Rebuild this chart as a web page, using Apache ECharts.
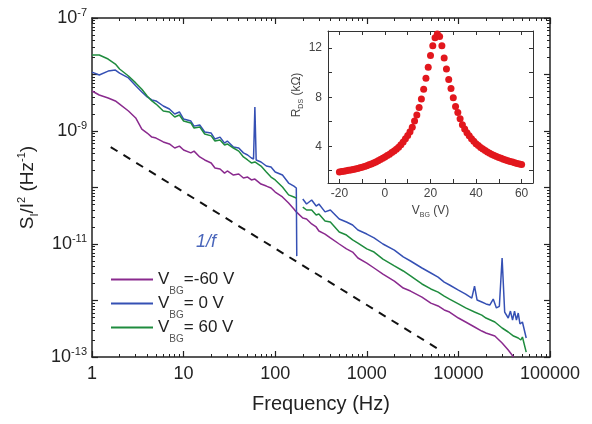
<!DOCTYPE html>
<html>
<head>
<meta charset="utf-8">
<script src="https://cdn.jsdelivr.net/npm/echarts@6/dist/echarts.min.js"></script>
<style>html,body{margin:0;padding:0;background:#fff}#main{width:592px;height:424px}</style>
</head>
<body>
<div id="main"></div>
<script>
// noise spectra S_I/I^2 vs frequency
const freqPurple = [1,1.2,1.5,1.8,2,2.5,3,3.5,4,4.5,5,6,7,8,9,10,12,13,15,17,20,22,25,28,30,35,40,45,50,55,60,70,80,90,100,120,140,160,170,200,220,250,280,300,350,400,500,600,700,800,1000,1200,1500,2000,2500,3000,4000,5000,6000,7000,8000,10000,12000,15000,18000,20000,25000,30000,35000,40000];
const sPurple = [5.1e-9,4.34e-9,3.84e-9,3.4e-9,3.0e-9,2.26e-9,1.7e-9,1.08e-9,9.2e-10,7.8e-10,7.5e-10,6.4e-10,5.9e-10,5.0e-10,5.4e-10,4.6e-10,4.1e-10,4.4e-10,3.47e-10,3.07e-10,2.72e-10,2.21e-10,2.12e-10,1.8e-10,1.96e-10,1.66e-10,1.73e-10,1.47e-10,1.53e-10,1.36e-10,1.41e-10,1.15e-10,1.06e-10,9.8e-11,8.3e-11,6.8e-11,5.3e-11,4.16e-11,3.7e-11,2.88e-11,2.77e-11,2.26e-11,2.0e-11,1.7e-11,1.5e-11,1.28e-11,1.0e-11,8.2e-12,7.2e-12,5.65e-12,4.6e-12,3.76e-12,2.94e-12,2.21e-12,1.66e-12,1.47e-12,1.15e-12,9.0e-13,8.0e-13,6.8e-13,6.25e-13,4.9e-13,4.16e-13,3.4e-13,2.88e-13,2.66e-13,2.35e-13,1.77e-13,1.33e-13,1.0e-13];

const freqBlue = [1,1.2,1.5,1.8,2,2.5,3,3.5,4,4.5,5,6,7,8,9,10,12,13,15,17,20,22,25,28,30,35,40,45,50,55,58,60,62,70,80,90,100,120,140,160,170,172,185,200,220,250,280,300,350,400,500,600,700,800,1000,1200,1500,2000,2500,3000,4000,5000,6000,7000,8000,10000,12000,14000,15000,16000,18000,20000,22000,24000,26000,28000,30000,32000,35000,37000,39000,41000,43000,45000,47000,50000,55000];
const sBlue = [1.1e-8,9.8e-9,1.15e-8,1.2e-8,1.06e-8,8.7e-9,6.3e-9,4.9e-9,4.0e-9,3.54e-9,3.4e-9,2.77e-9,2.45e-9,2.0e-9,2.17e-9,1.63e-9,1.5e-9,1.22e-9,1.28e-9,9.6e-10,9.2e-10,7.2e-10,7.8e-10,6.1e-10,6.65e-10,5.2e-10,5.0e-10,4.1e-10,3.76e-10,3.33e-10,3.2e-10,2.66e-9,3.07e-10,2.83e-10,2.4e-10,2.3e-10,1.88e-10,1.66e-10,1.2e-10,1.06e-10,9.8e-11,6.1e-12,null,6.25e-11,5.1e-11,6.0e-11,4.7e-11,5.1e-11,3.7e-11,4.0e-11,2.77e-11,2.45e-11,2.17e-11,1.77e-11,1.5e-11,1.28e-11,1.0e-11,7.8e-12,5.9e-12,5.0e-12,3.76e-12,3.07e-12,2.6e-12,2.12e-12,1.88e-12,1.53e-12,1.3e-12,1.1e-12,1.8e-12,1.02e-12,9.4e-13,8.7e-13,8.3e-13,1.06e-12,7.4e-13,7.9e-13,5.65e-12,6.25e-13,4.9e-13,6.5e-13,4.5e-13,6.5e-13,4.5e-13,6.0e-13,3.84e-13,4.16e-13,2.17e-13];

const freqGreen = [1,1.2,1.5,1.8,2,2.5,3,3.5,4,4.5,5,6,7,8,9,10,12,13,15,17,20,22,25,28,30,35,40,45,50,55,60,70,80,90,100,120,140,160,170,185,200,220,250,280,300,350,400,500,600,700,800,1000,1200,1500,2000,2500,3000,4000,5000,6000,7000,8000,10000,12000,15000,18000,20000,25000,30000,35000,40000,45000,48000,50000,55000];
const sGreen = [2.21e-8,2.21e-8,1.88e-8,1.53e-8,1.25e-8,9.4e-9,7.1e-9,5.5e-9,4.16e-9,3.4e-9,3.0e-9,2.26e-9,2.17e-9,1.77e-9,1.92e-9,1.5e-9,1.39e-9,1.13e-9,1.18e-9,8.85e-10,8.2e-10,6.65e-10,6.9e-10,5.65e-10,5.9e-10,5.0e-10,4.4e-10,3.47e-10,3.07e-10,2.72e-10,2.83e-10,2.4e-10,1.88e-10,1.53e-10,1.36e-10,1.02e-10,7.4e-11,6.8e-11,6.5e-11,null,4.5e-11,4.0e-11,4.0e-11,3.26e-11,3.4e-11,2.55e-11,2.45e-11,1.63e-11,1.44e-11,1.18e-11,1.04e-11,8.2e-12,7.2e-12,5.4e-12,4.1e-12,3.33e-12,2.72e-12,1.96e-12,1.6e-12,1.41e-12,1.2e-12,1.06e-12,8.7e-13,7.4e-13,6.25e-13,5.5e-13,4.9e-13,4.16e-13,3.26e-13,2.77e-13,2.35e-13,2.17e-13,2.0e-13,2.26e-13,1.22e-13];

// 1/f guide line
const freqGuide = [1.6, 6000];
const sGuide = [5.2e-10, 1.39e-13];

// inset: R_DS vs V_BG
const vbg = [-20,-19,-18,-17,-16,-15,-14,-13,-12,-11,-10,-9,-8,-7,-6,-5,-4,-3,-2,-1,0,1,2,3,4,5,6,7,8,9,10,11,12,13,14,15,16,17,18,19,20,21,22,23,24,25,26,27,28,29,30,31,32,33,34,35,36,37,38,39,40,41,42,43,44,45,46,47,48,49,50,51,52,53,54,55,56,57,58,59,60];
const rds = [1.90,1.93,1.96,2.00,2.03,2.07,2.10,2.14,2.18,2.24,2.29,2.35,2.41,2.48,2.56,2.64,2.72,2.81,2.91,3.02,3.13,3.24,3.35,3.48,3.61,3.75,3.92,4.12,4.35,4.60,4.88,5.18,5.55,6.05,6.55,7.15,7.85,8.65,9.55,10.45,11.40,12.20,12.85,13.15,12.95,12.20,11.20,10.30,9.45,8.70,7.95,7.25,6.75,6.25,5.75,5.40,5.10,4.85,4.60,4.40,4.20,4.05,3.90,3.77,3.65,3.53,3.42,3.33,3.24,3.16,3.08,3.01,2.94,2.87,2.81,2.76,2.71,2.65,2.60,2.55,2.50];

// inset tick marks and labels
const insetXTicks = [-20,-10,0,10,20,30,40,50,60];
const insetXLabels = [-20,0,20,40,60];
const insetYTicks = [2,4,6,8,10,12];
const insetYLabels = [4,8,12];

const names = ['VBG=-60 V', 'VBG= 0 V', 'VBG= 60 V'];
const colors = ['#8a2a8e', '#3550b4', '#1f8c3e'];

const FONT = 'Liberation Sans, Arial, sans-serif';
const pairs = (xs, ys) => xs.map((x, i) => [x, ys[i]]);

const frameLine = {lineStyle: {color: '#222', width: 1.5}};
const tick = {inside: true, length: 6, lineStyle: {color: '#222', width: 1.2}};
const minor = {show: true, splitNumber: 9, length: 3, lineStyle: {color: '#222', width: 1}};
const insetLine = {onZero: false, lineStyle: {color: '#333', width: 1}};
const insetTick = (vals) => ({inside: true, length: 4, customValues: vals, lineStyle: {color: '#333'}});
const supRich = {
  b: {fontSize: 18, lineHeight: 22, color: '#222', fontFamily: FONT},
  sup: {fontSize: 11, lineHeight: 11, verticalAlign: 'top', color: '#222', fontFamily: FONT},
  sub: {fontSize: 11, lineHeight: 11, verticalAlign: 'bottom', color: '#222', fontFamily: FONT}
};
const insetRich = {
  v: {fontSize: 12, lineHeight: 16, color: '#444', fontFamily: FONT},
  s: {fontSize: 7, lineHeight: 7, verticalAlign: 'bottom', color: '#444', fontFamily: FONT}
};

function expLabel(v) {
  const e = Math.round(Math.log10(v));
  if (e % 2 === 0) return '';
  return '{b|10}{sup|' + e + '}';
}

const chart = echarts.init(document.getElementById('main'));
chart.setOption({
  animation: false,
  backgroundColor: '#fff',
  grid: [
    {left: 92, right: 42, top: 18, bottom: 67},
    {left: 328, top: 31, width: 205, height: 152, show: true, backgroundColor: '#fff', borderWidth: 0}
  ],
  xAxis: [
    {
      type: 'log', gridIndex: 0, min: 1, max: 100000, splitNumber: 5,
      axisLine: frameLine, axisTick: tick, minorTick: minor, splitLine: {show: false},
      axisLabel: {formatter: v => String(Math.round(v)), fontSize: 18, color: '#222', fontFamily: FONT, margin: 8},
      name: 'Frequency (Hz)', nameLocation: 'middle', nameGap: 37,
      nameTextStyle: {fontSize: 20, color: '#222', fontFamily: FONT}
    },
    {
      type: 'log', gridIndex: 0, position: 'top', min: 1, max: 100000, splitNumber: 5,
      axisLine: frameLine, axisTick: tick, minorTick: minor, splitLine: {show: false},
      axisLabel: {show: false}
    },
    {
      type: 'value', gridIndex: 1, min: -25, max: 65,
      axisLine: insetLine, axisTick: insetTick(insetXTicks), splitLine: {show: false},
      axisLabel: {customValues: insetXLabels, fontSize: 12, color: '#444', fontFamily: FONT, margin: 5},
      name: '{v|V}{s|BG}{v| (V)}', nameLocation: 'middle', nameGap: 20,
      nameTextStyle: {rich: insetRich}
    },
    {
      type: 'value', gridIndex: 1, position: 'top', min: -25, max: 65,
      axisLine: insetLine, axisTick: insetTick(insetXTicks), splitLine: {show: false},
      axisLabel: {show: false}
    }
  ],
  yAxis: [
    {
      type: 'log', gridIndex: 0, min: 1e-13, max: 1e-7, splitNumber: 6,
      axisLine: frameLine, axisTick: tick, minorTick: minor, splitLine: {show: false},
      axisLabel: {formatter: expLabel, margin: 5, rich: supRich},
      name: '{b|S}{sub|I}{b|/I}{sup|2}{b| (Hz}{sup|-1}{b|)}',
      nameLocation: 'middle', nameGap: 52, nameRotate: 90,
      nameTextStyle: {rich: {
        b: {fontSize: 19, lineHeight: 24, color: '#222', fontFamily: FONT},
        sup: {fontSize: 11, lineHeight: 11, verticalAlign: 'top', color: '#222', fontFamily: FONT},
        sub: {fontSize: 11, lineHeight: 11, verticalAlign: 'bottom', color: '#222', fontFamily: FONT}
      }}
    },
    {
      type: 'log', gridIndex: 0, position: 'right', min: 1e-13, max: 1e-7, splitNumber: 6,
      axisLine: frameLine, axisTick: tick, minorTick: minor, splitLine: {show: false},
      axisLabel: {show: false}
    },
    {
      type: 'value', gridIndex: 1, min: 1, max: 13.4,
      axisLine: insetLine, axisTick: insetTick(insetYTicks), splitLine: {show: false},
      axisLabel: {customValues: insetYLabels, fontSize: 12, color: '#444', fontFamily: FONT, margin: 6},
      name: '{v|R}{s|DS}{v| (kΩ)}', nameLocation: 'middle', nameGap: 19, nameRotate: 90,
      nameTextStyle: {rich: insetRich, padding: [0, 0, 0, 24]}
    },
    {
      type: 'value', gridIndex: 1, position: 'right', min: 1, max: 13.4,
      axisLine: insetLine, axisTick: insetTick(insetYTicks), splitLine: {show: false},
      axisLabel: {show: false}
    }
  ],
  legend: {
    left: 106, top: 266, orient: 'vertical', icon: 'rect',
    itemWidth: 42, itemHeight: 2, itemGap: -1.5, selectedMode: false,
    data: names,
    formatter: name => '{v|V}{s|BG}{v|' + name.slice(3) + '}',
    textStyle: {rich: {
      v: {fontSize: 17, lineHeight: 34, color: '#222', fontFamily: FONT},
      s: {fontSize: 10, lineHeight: 10, verticalAlign: 'bottom', color: '#555', fontFamily: FONT}
    }}
  },
  graphic: [
    {type: 'text', left: 196, top: 233, style: {text: '1/f', font: 'italic 18px Liberation Sans', fill: '#4a66bb'}}
  ],
  series: [
    {name: names[0], type: 'line', xAxisIndex: 0, yAxisIndex: 0, data: pairs(freqPurple, sPurple),
      showSymbol: false, symbol: 'none', lineStyle: {color: colors[0], width: 1.5}, itemStyle: {color: colors[0]}},
    {name: names[1], type: 'line', xAxisIndex: 0, yAxisIndex: 0, data: pairs(freqBlue, sBlue),
      showSymbol: false, symbol: 'none', lineStyle: {color: colors[1], width: 1.5}, itemStyle: {color: colors[1]}},
    {name: names[2], type: 'line', xAxisIndex: 0, yAxisIndex: 0, data: pairs(freqGreen, sGreen),
      showSymbol: false, symbol: 'none', lineStyle: {color: colors[2], width: 1.5}, itemStyle: {color: colors[2]}},
    {name: '1/f', type: 'line', xAxisIndex: 0, yAxisIndex: 0, data: pairs(freqGuide, sGuide),
      showSymbol: false, symbol: 'none', lineStyle: {color: '#111', width: 2, type: [8, 7]}},
    {name: 'R', type: 'scatter', xAxisIndex: 2, yAxisIndex: 2, data: pairs(vbg, rds),
      symbolSize: 7, itemStyle: {color: '#e2171d', opacity: 1}}
  ]
});
</script>
</body>
</html>
